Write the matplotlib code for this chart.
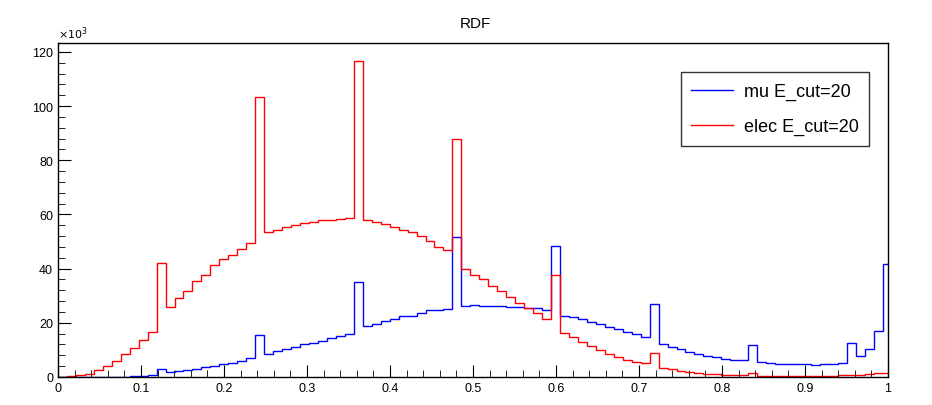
import numpy as np
import matplotlib.pyplot as plt
from matplotlib.ticker import MultipleLocator

plt.rcParams['font.family'] = ['Liberation Sans', 'DejaVu Sans']

# histogram range 0..1.08 with 100 bins; only the part up to x=1 is visible
bin_width = 0.0108
mu_vals = [0.0, 0.0, 0.0, 0.0, 0.0, 0.0, 0.0, 0.1, 0.4, 0.5,
           0.9, 2.8, 2.0, 2.2, 2.7, 3.1, 3.6, 4.1, 4.7, 5.3,
           5.8, 6.9, 15.6, 8.6, 9.5, 10.2, 11.2, 12.0, 12.4, 13.3,
           14.3, 15.1, 15.8, 35.0, 18.8, 19.7, 20.6, 21.5, 22.5, 22.7,
           23.7, 24.6, 24.7, 25.2, 51.7, 26.2, 26.5, 26.3, 26.2, 26.2,
           26.0, 25.8, 25.6, 25.4, 24.9, 48.3, 22.7, 22.2, 21.3, 20.3,
           19.4, 18.5, 17.6, 16.7, 15.8, 14.9, 27.0, 12.0, 11.2, 10.2,
           9.3, 8.6, 7.7, 7.2, 6.8, 6.3, 6.1, 11.7, 5.4, 5.2,
           4.9, 4.7, 4.7, 4.7, 4.5, 4.7, 4.9, 5.0, 12.7, 7.7,
           10.2, 17.0, 41.8]
elec_vals = [0.1, 0.3, 0.8, 1.2, 2.5, 4.1, 5.9, 8.4, 10.8, 13.5,
             16.6, 42.1, 25.8, 29.0, 31.7, 35.4, 37.6, 41.2, 43.4, 45.2,
             47.4, 49.3, 103.2, 53.6, 54.4, 55.4, 56.0, 56.9, 57.2, 58.0,
             58.1, 58.4, 58.7, 116.8, 57.9, 57.1, 56.6, 55.4, 54.2, 53.4,
             52.0, 50.1, 48.0, 46.7, 87.8, 39.9, 37.8, 36.2, 33.5, 31.7,
             29.6, 27.4, 25.6, 23.5, 21.5, 37.5, 16.3, 14.7, 12.9, 11.4,
             10.0, 8.6, 7.5, 6.2, 5.5, 5.0, 8.9, 3.4, 2.8, 2.2,
             1.7, 1.5, 1.2, 1.0, 0.9, 0.7, 0.7, 1.4, 0.5, 0.4,
             0.4, 0.4, 0.4, 0.4, 0.4, 0.4, 0.5, 0.6, 0.7, 0.8,
             1.0, 1.4, 1.6]
labels = ["mu E_cut=20", "elec E_cut=20"]

edges = np.arange(len(mu_vals) + 1) * bin_width

fig = plt.figure(figsize=(9.32, 4.06), dpi=100)
ax = fig.add_axes([58 / 932, 28 / 406, 830 / 932, 334 / 406])

ax.stairs(mu_vals, edges, color="#0000ff", lw=1.0, label=labels[0])
ax.stairs(elec_vals, edges, color="#ff0000", lw=1.0, label=labels[1])

ax.set_xlim(0, 1)
ax.set_ylim(0, 123.3)
ax.xaxis.set_major_locator(MultipleLocator(0.1))
ax.xaxis.set_minor_locator(MultipleLocator(0.02))
ax.yaxis.set_major_locator(MultipleLocator(20))
ax.yaxis.set_minor_locator(MultipleLocator(4))
ax.tick_params(which="both", direction="in", top=False, right=False, labelsize=9)
ax.tick_params(which="major", length=9)
ax.tick_params(which="minor", length=5)
ax.xaxis.set_major_formatter(lambda v, p: "0" if v == 0 else ("1" if abs(v - 1) < 1e-9 else f"{v:.1f}"))
ax.text(0, 1.005, r"$\times10^3$", transform=ax.transAxes, fontsize=8, va="bottom")
for s in ax.spines.values():
    s.set_linewidth(1.0)

fig.text(475 / 932, 1 - 24 / 406, "RDF", ha="center", va="center", fontsize=11)

leg = ax.legend(loc="upper right", bbox_to_anchor=(0.9885, 0.94), fontsize=13,
                frameon=True, fancybox=False, edgecolor="black", handlelength=2.3,
                labelspacing=1.0, borderpad=0.6, handletextpad=0.6)
leg.get_frame().set_linewidth(1.0)

fig.savefig("out.png")
